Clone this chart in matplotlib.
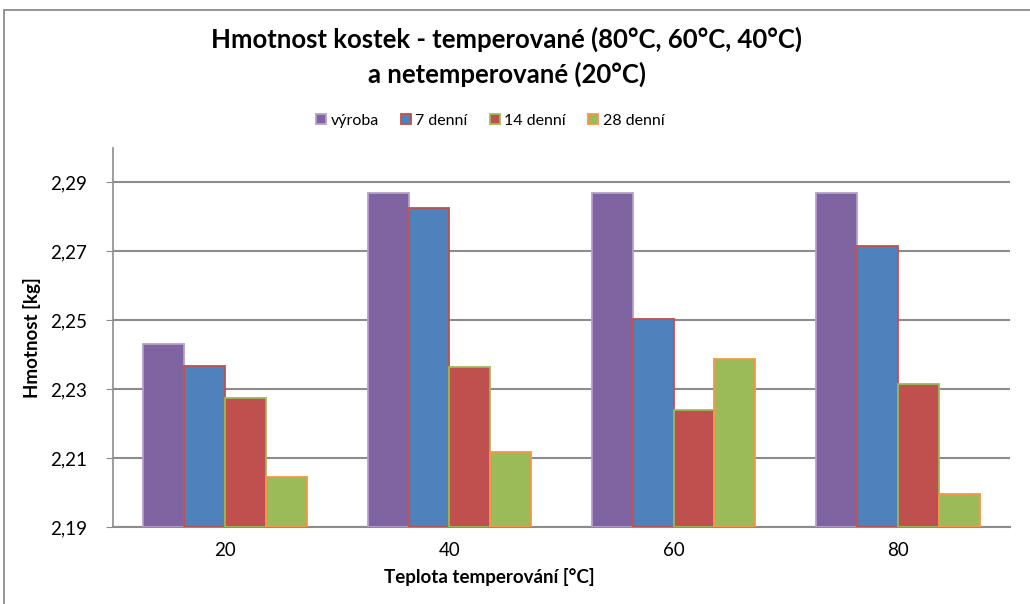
import matplotlib
matplotlib.use("Agg")
import matplotlib.pyplot as plt
import numpy as np
from matplotlib.ticker import FuncFormatter, FixedLocator
from matplotlib.patches import Rectangle

# Data
categories = ["20", "40", "60", "80"]
series_names = ["výroba", "7 denní", "14 denní", "28 denní"]
vyroba = [2.2430, 2.2868, 2.2868, 2.2868]
den7 = [2.2367, 2.2827, 2.2505, 2.2717]
den14 = [2.2274, 2.2365, 2.2239, 2.2314]
den28 = [2.2045, 2.2118, 2.2389, 2.1996]
y_ticks = [2.19, 2.21, 2.23, 2.25, 2.27, 2.29]

face_colors = ["#8064A2", "#4F81BD", "#C0504D", "#9BBB59"]
edge_colors = ["#B3A2C7", "#C0504D", "#9BBB59", "#F79646"]

plt.rcParams["font.family"] = ["Lato", "DejaVu Sans"]

fig = plt.figure(figsize=(10.30, 6.04), dpi=100)
ax = fig.add_axes([113 / 1030, 77 / 604, 897 / 1030, 379 / 604])

x = np.arange(len(categories))
width = 0.182
all_series = [vyroba, den7, den14, den28]
base = 2.19
handles = []
for i, (vals, name) in enumerate(zip(all_series, series_names)):
    offs = (i - 1.5) * width
    h = ax.bar(x + offs, np.array(vals) - base, width, bottom=base,
               color=face_colors[i], edgecolor=edge_colors[i], linewidth=1.3,
               label=name, zorder=3)
    handles.append(h)

ax.set_xlim(-0.5, 3.5)
ax.set_ylim(2.19, 2.30)
ax.yaxis.set_major_locator(FixedLocator(y_ticks))
ax.yaxis.set_major_formatter(FuncFormatter(lambda v, p: f"{v:.2f}".replace(".", ",")))
ax.set_xticks(x)
ax.set_xticklabels(categories)

ax.grid(axis="y", color="#8C8C8C", linewidth=1.5, zorder=0)
for s in ["top", "right"]:
    ax.spines[s].set_visible(False)
ax.spines["left"].set_color("#8C8C8C")
ax.spines["bottom"].set_color("#8C8C8C")
ax.spines["left"].set_linewidth(1.2)
ax.spines["bottom"].set_linewidth(1.5)
ax.tick_params(axis="y", length=5, color="#8C8C8C", labelsize=13.5, pad=14)
ax.tick_params(axis="x", length=0, labelsize=13.5, pad=11)

ax.set_ylabel("Hmotnost [kg]", fontsize=13.5, fontweight="bold", labelpad=6)
ax.set_xlabel("Teplota temperování [°C]", fontsize=13.5, fontweight="bold", labelpad=-1)
ax.xaxis.set_label_coords((489 - 113) / 897, -0.108)

fig.text(0.492, 0.906, "Hmotnost kostek - temperované (80°C, 60°C, 40°C)\na netemperované (20°C)",
         ha="center", va="center", fontsize=18.5, fontweight="bold", linespacing=1.45)

leg = fig.legend(handles=handles, loc="center", bbox_to_anchor=(0.476, 0.800), ncol=4,
                 frameon=False, fontsize=11.5, handlelength=0.6, handleheight=0.6,
                 handletextpad=0.3, columnspacing=1.4)

# Outer chart frame
fig.patches.append(Rectangle((4 / 1030, -0.05), 1.2, (604 - 10) / 604 + 0.05,
                             transform=fig.transFigure, fill=False,
                             edgecolor="#8C8C8C", linewidth=1.3))

fig.savefig("out.png", dpi=100)
